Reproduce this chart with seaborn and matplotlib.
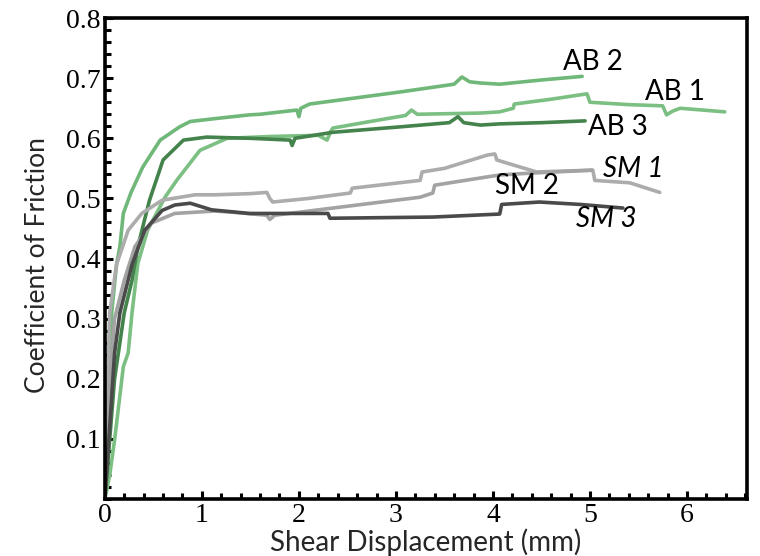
import matplotlib
matplotlib.use("Agg")
import matplotlib.pyplot as plt
from matplotlib.ticker import MultipleLocator, FixedLocator
import seaborn as sns
import pandas as pd

# ---- data ----
ab2_x = [0, 0.03, 0.05, 0.07, 0.12, 0.155, 0.19, 0.27, 0.39, 0.57, 0.77, 0.88, 1.15, 1.49, 1.6, 1.98, 2.0, 2.02, 2.11,
         3.04, 3.6, 3.68, 3.76, 3.87, 4.07, 4.5, 4.92]
ab2_y = [0, 0.08, 0.143, 0.31, 0.39, 0.42, 0.475, 0.51, 0.552, 0.597, 0.619, 0.628, 0.633, 0.639, 0.64, 0.647, 0.636,
         0.65, 0.657, 0.677, 0.69, 0.702, 0.694, 0.692, 0.69, 0.697, 0.703]

ab1_x = [0, 0.05, 0.1, 0.19, 0.24, 0.28, 0.34, 0.44, 0.62, 0.74, 0.98, 1.26, 1.7, 2.2, 2.29, 2.33, 2.35, 2.7, 3.1, 3.16,
         3.22, 3.87, 4.07, 4.21, 4.22, 4.6, 4.97, 5.0, 5.4, 5.75, 5.79, 5.85, 5.93, 6.39]
ab1_y = [0, 0.04, 0.098, 0.22, 0.243, 0.31, 0.392, 0.447, 0.502, 0.53, 0.58, 0.6, 0.603, 0.605, 0.597, 0.612, 0.617,
         0.627, 0.638, 0.647, 0.64, 0.642, 0.644, 0.65, 0.657, 0.665, 0.674, 0.66, 0.656, 0.654, 0.639, 0.645, 0.65,
         0.644]

ab3_x = [0, 0.05, 0.1, 0.2, 0.28, 0.34, 0.46, 0.6, 0.81, 1.05, 1.5, 1.91, 1.93, 1.96, 2.35, 3.04, 3.55, 3.64, 3.7,
         3.87, 4.07, 4.5, 4.95]
ab3_y = [0, 0.1, 0.2, 0.31, 0.364, 0.42, 0.497, 0.564, 0.597, 0.602, 0.6, 0.597, 0.588, 0.6, 0.61, 0.619, 0.626,
         0.636, 0.626, 0.622, 0.624, 0.626, 0.629]

sm1_x = [0, 0.02, 0.05, 0.12, 0.24, 0.38, 0.59, 0.93, 1.13, 1.5, 1.67, 1.7, 1.73, 2.1, 2.53, 2.55, 3.25, 3.27, 3.5,
         3.94, 4.02, 4.04, 4.12, 4.45, 5.03, 5.05, 5.41, 5.72]
sm1_y = [0, 0.15, 0.31, 0.39, 0.447, 0.475, 0.497, 0.506, 0.506, 0.508, 0.51, 0.5, 0.494, 0.5, 0.509, 0.517, 0.53,
         0.544, 0.55, 0.572, 0.574, 0.564, 0.56, 0.544, 0.547, 0.53, 0.526, 0.51]

sm2_x = [0, 0.05, 0.1, 0.2, 0.31, 0.48, 0.72, 1.13, 1.32, 1.67, 1.7, 1.75, 2.35, 3.25, 3.38, 3.4, 3.87, 4.07, 4.38,
         5.02]
sm2_y = [0, 0.2, 0.3, 0.364, 0.42, 0.459, 0.475, 0.479, 0.477, 0.472, 0.465, 0.472, 0.484, 0.502, 0.509, 0.522,
         0.534, 0.539, 0.542, 0.547]

sm3_x = [0, 0.05, 0.1, 0.155, 0.28, 0.41, 0.59, 0.72, 0.88, 1.1, 1.49, 2.3, 2.32, 3.38, 4.07, 4.09, 4.48, 4.9, 5.34]
sm3_y = [0, 0.12, 0.243, 0.31, 0.39, 0.447, 0.48, 0.489, 0.492, 0.481, 0.475, 0.475, 0.467, 0.469, 0.474, 0.49,
         0.494, 0.49, 0.484]

series = [
    ("AB 2", ab2_x, ab2_y, "#70b879"),
    ("AB 1", ab1_x, ab1_y, "#7cbf82"),
    ("AB 3", ab3_x, ab3_y, "#44834c"),
    ("SM 1", sm1_x, sm1_y, "#acacac"),
    ("SM 2", sm2_x, sm2_y, "#a3a3a3"),
    ("SM 3", sm3_x, sm3_y, "#4a4a4a"),
]

labels = ["AB 2", "AB 1", "AB 3", "SM 1", "SM 2", "SM 3"]
label_x = [5.03, 5.88, 5.29, 5.45, 4.35, 5.17]
label_y = [0.727, 0.677, 0.619, 0.549, 0.520, 0.466]
label_italic = [False, False, False, True, False, True]

x_ticks = [0, 1, 2, 3, 4, 5, 6]
y_ticks = [0.1, 0.2, 0.3, 0.4, 0.5, 0.6, 0.7, 0.8]

# ---- plot ----
sns.set_theme(style="white")
fig = plt.figure(figsize=(7.6, 5.56), dpi=100)
ax = fig.add_axes([0.138, 0.1025, 0.845, 0.865])

for name, xs, ys, col in series:
    df = pd.DataFrame({"x": xs, "y": ys})
    sns.lineplot(data=df, x="x", y="y", estimator=None, sort=False, color=col,
                 linewidth=2.6, ax=ax, legend=False)

for t, lx, ly, it in zip(labels, label_x, label_y, label_italic):
    ax.text(lx, ly, t, ha="center", va="center", fontsize=20, family="Lato",
            style="italic" if it else "normal", color="black")

ax.set_xlim(0, 6.62)
ax.set_ylim(0, 0.8)
ax.xaxis.set_major_locator(FixedLocator(x_ticks))
ax.yaxis.set_major_locator(FixedLocator(y_ticks))
ax.xaxis.set_minor_locator(MultipleLocator(0.2))
ax.yaxis.set_minor_locator(MultipleLocator(0.02))
ax.set_xticklabels([str(v) for v in x_ticks])
ax.set_yticklabels([f"{v:.1f}" for v in y_ticks])

for lab in ax.get_xticklabels() + ax.get_yticklabels():
    lab.set_family("Liberation Serif")
    lab.set_fontsize(20)
    lab.set_color("black")

ax.tick_params(axis="both", which="major", direction="in", length=6, width=2.2, color="black",
               bottom=True, left=True, top=False, right=False, pad=3)
ax.tick_params(axis="both", which="minor", direction="in", length=4, width=2.2, color="black",
               bottom=True, left=True, top=False, right=False)

for sp in ax.spines.values():
    sp.set_color("black")
    sp.set_linewidth(2.6)

ax.set_xlabel("Shear Displacement (mm)", family="Lato", fontsize=20, labelpad=0)
ax.set_ylabel("Coefficient of Friction", family="Lato", fontsize=19)
ax.yaxis.set_label_coords(-0.086, 0.486)

fig.savefig("out.png", dpi=100)
